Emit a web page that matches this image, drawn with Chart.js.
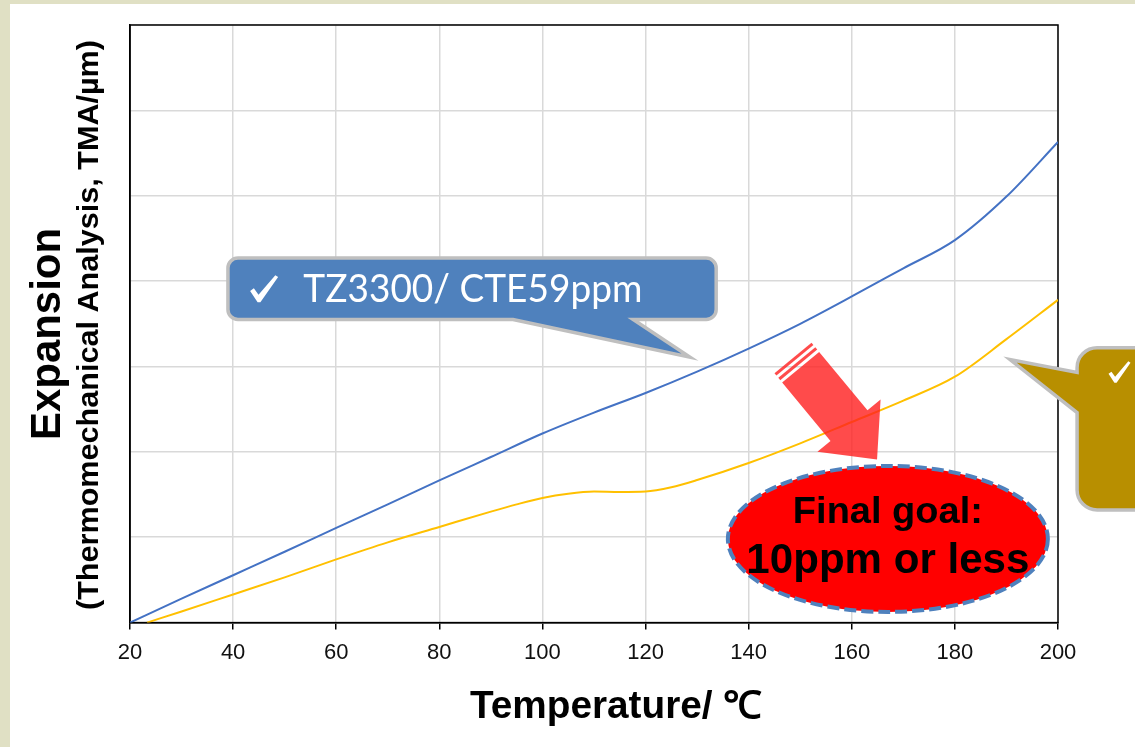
<!DOCTYPE html>
<html>
<head>
<meta charset="utf-8">
<script src="https://cdn.jsdelivr.net/npm/chart.js@4.4.1/dist/chart.umd.min.js"></script>
<style>
  html, body { margin: 0; padding: 0; background: #e0e0c4; }
  #wrap { width: 1135px; height: 747px; }
</style>
</head>
<body>
<div id="wrap"><canvas id="tmaChart" width="1135" height="747"></canvas></div>
<script>
// x axis ticks
const tempTicks = [20, 40, 60, 80, 100, 120, 140, 160, 180, 200];

// TZ3300 (blue), y in grid units
const blueTemps = [20, 30, 40, 50, 60, 70, 80, 90, 100, 110, 120, 130, 140, 150, 160, 170, 180, 190, 200];
const blueValues = [0, 0.28, 0.555, 0.83, 1.11, 1.385, 1.665, 1.94, 2.215, 2.46, 2.69, 2.94, 3.21, 3.50, 3.82, 4.15, 4.48, 4.99, 5.63];

// second material (yellow)
const yellowTemps = [23.3, 30, 40, 50, 60, 70, 80, 90, 95, 100, 105, 110, 115, 120, 125, 130, 140, 150, 160, 170, 180, 190, 200];
const yellowValues = [0, 0.13, 0.33, 0.53, 0.74, 0.94, 1.12, 1.30, 1.385, 1.46, 1.51, 1.535, 1.53, 1.535, 1.585, 1.67, 1.87, 2.10, 2.35, 2.60, 2.88, 3.32, 3.78];

const toPoints = (xs, ys) => xs.map((x, i) => ({ x: x, y: ys[i] }));

// draws text squeezed/stretched to a given width
function fitText(ctx, text, x, y, width, font) {
  ctx.font = font;
  const w = ctx.measureText(text).width;
  ctx.save();
  ctx.translate(x, y);
  ctx.scale(width / w, 1);
  ctx.textAlign = 'center';
  ctx.fillText(text, 0, 0);
  ctx.restore();
}

// wingdings-like tick mark, (x, y) = top left, s = size
function checkMark(ctx, x, y, s) {
  const k = s / 30;
  const pts = [[0, 17], [4, 14], [9, 21], [27, 0], [30, 2], [11, 29], [8, 29]];
  ctx.beginPath();
  pts.forEach((p, i) => {
    const px = x + p[0] * k, py = y + p[1] * k;
    if (i === 0) ctx.moveTo(px, py); else ctx.lineTo(px, py);
  });
  ctx.closePath();
  ctx.fill();
}

const backgroundPlugin = {
  id: 'background',
  beforeDraw(chart) {
    const ctx = chart.ctx;
    ctx.save();
    ctx.fillStyle = '#e0e0c4';
    ctx.fillRect(0, 0, chart.width, chart.height);
    ctx.fillStyle = '#ffffff';
    ctx.fillRect(10, 4, chart.width - 10, chart.height - 4);
    ctx.restore();
  },
  beforeDatasetsDraw(chart) {
    const { ctx, chartArea: a } = chart;
    ctx.save();
    ctx.strokeStyle = '#000';
    ctx.lineWidth = 1.5;
    ctx.strokeRect(a.left, a.top, a.right - a.left, a.bottom - a.top);
    ctx.restore();
  }
};

const annotationPlugin = {
  id: 'notes',
  afterDatasetsDraw(chart) {
    const ctx = chart.ctx;
    const X = v => chart.scales.x.getPixelForValue(v);
    const Y = v => chart.scales.y.getPixelForValue(v);

    // ---- blue callout
    ctx.save();
    let l = X(39.0), r = X(133.7), t = Y(4.27), b = Y(3.55), rad = 10;
    ctx.beginPath();
    ctx.moveTo(l + rad, t);
    ctx.arcTo(r, t, r, b, rad);
    ctx.arcTo(r, b, l, b, rad);
    ctx.lineTo(X(117.6), b);
    ctx.lineTo(X(128.6), Y(3.11));
    ctx.lineTo(X(94.3), b);
    ctx.arcTo(l, b, l, t, rad);
    ctx.arcTo(l, t, r, t, rad);
    ctx.closePath();
    ctx.fillStyle = '#4f81bd';
    ctx.fill();
    ctx.strokeStyle = '#bfbfbf';
    ctx.lineWidth = 3.5;
    ctx.stroke();
    ctx.fillStyle = '#ffffff';
    checkMark(ctx, X(43.3), Y(4.07), 28);
    fitText(ctx, 'TZ3300/ CTE59ppm', (X(53.6) + X(119.4)) / 2, Y(3.75), 339, '38px Lato');
    ctx.restore();

    // ---- gold callout (cut by the right edge)
    ctx.save();
    l = X(203.7); r = chart.width + 40; t = Y(3.22); b = Y(1.32); rad = 20;
    ctx.beginPath();
    ctx.moveTo(r, t);
    ctx.lineTo(l + rad, t);
    ctx.arcTo(l, t, l, b, rad);
    ctx.lineTo(l, Y(2.93));
    ctx.lineTo(X(190.7), Y(3.08));
    ctx.lineTo(l, Y(2.46));
    ctx.arcTo(l, b, r, b, rad);
    ctx.lineTo(r, b);
    ctx.closePath();
    ctx.fillStyle = '#b88f00';
    ctx.fill();
    ctx.strokeStyle = '#bfbfbf';
    ctx.lineWidth = 3.5;
    ctx.stroke();
    ctx.fillStyle = '#ffffff';
    checkMark(ctx, X(209.8), Y(3.06), 22);
    ctx.restore();

    // ---- red ellipse with dashed border
    ctx.save();
    const cx = X(167.0), cy = Y(0.98);
    ctx.beginPath();
    ctx.ellipse(cx, cy, 160, 73, 0, 0, Math.PI * 2);
    ctx.fillStyle = '#ff0000';
    ctx.fill();
    ctx.setLineDash([12, 5]);
    ctx.strokeStyle = '#4f81bd';
    ctx.lineWidth = 4;
    ctx.stroke();
    ctx.setLineDash([]);
    ctx.fillStyle = '#000000';
    fitText(ctx, 'Final goal:', cx, cy - 16, 190, 'bold 36px "Liberation Sans"');
    fitText(ctx, '10ppm or less', cx, cy + 34, 283, 'bold 42px "Liberation Sans"');
    ctx.restore();

    // ---- translucent red arrow
    ctx.save();
    const sx = X(148.6), sy = Y(3.10), ex = X(164.9), ey = Y(1.91);
    const len = Math.hypot(ex - sx, ey - sy);
    ctx.translate(sx, sy);
    ctx.rotate(Math.atan2(ey - sy, ex - sx));
    const hw = 24, headW = 41, headL = 44;
    ctx.beginPath();
    ctx.moveTo(12, -hw);
    ctx.lineTo(len - headL, -hw);
    ctx.lineTo(len - headL, -headW);
    ctx.lineTo(len, 0);
    ctx.lineTo(len - headL, headW);
    ctx.lineTo(len - headL, hw);
    ctx.lineTo(12, hw);
    ctx.closePath();
    ctx.fillStyle = 'rgba(255, 30, 30, 0.8)';
    ctx.fill();
    ctx.fillRect(0, -hw, 3, hw * 2);
    ctx.fillRect(6, -hw, 3, hw * 2);
    ctx.restore();

    // ---- axis titles
    ctx.save();
    ctx.fillStyle = '#000000';
    ctx.textBaseline = 'alphabetic';
    fitText(ctx, 'Temperature/ \u2103', 616, 718, 292, 'bold 38px "Liberation Sans"');
    ctx.translate(60, 334);
    ctx.rotate(-Math.PI / 2);
    fitText(ctx, 'Expansion', 0, 0, 212, 'bold 42px "Liberation Sans"');
    ctx.restore();
    ctx.save();
    ctx.fillStyle = '#000000';
    ctx.translate(98, 325);
    ctx.rotate(-Math.PI / 2);
    fitText(ctx, '(Thermomechanical Analysis, TMA/\u00b5m)', 0, 0, 570, 'bold 30px "Liberation Sans"');
    ctx.restore();
  }
};

new Chart(document.getElementById('tmaChart'), {
  type: 'line',
  data: {
    datasets: [
      {
        label: 'TZ3300',
        data: toPoints(blueTemps, blueValues),
        borderColor: '#4472c4',
        borderWidth: 2,
        pointRadius: 0,
        cubicInterpolationMode: 'monotone'
      },
      {
        label: 'other',
        data: toPoints(yellowTemps, yellowValues),
        borderColor: '#ffc000',
        borderWidth: 2,
        pointRadius: 0,
        cubicInterpolationMode: 'monotone'
      }
    ]
  },
  options: {
    responsive: false,
    animation: false,
    layout: { padding: { left: 130, top: 25, right: 77, bottom: 71 } },
    plugins: {
      legend: { display: false },
      tooltip: { enabled: false }
    },
    scales: {
      x: {
        type: 'linear',
        min: 20,
        max: 200,
        afterBuildTicks: axis => { axis.ticks = tempTicks.map(v => ({ value: v })); },
        grid: { color: '#d9d9d9', lineWidth: 1.5, tickColor: '#000', tickLength: 7 },
        border: { color: '#000', width: 1.5 },
        ticks: {
          color: '#111',
          padding: 10,
          maxRotation: 0,
          font: { family: '"Liberation Sans", Arial', size: 22 }
        }
      },
      y: {
        min: 0,
        max: 7,
        ticks: { display: false, stepSize: 1 },
        grid: { color: '#d9d9d9', lineWidth: 1.5, drawTicks: false },
        border: { color: '#000', width: 1.5 }
      }
    }
  },
  plugins: [backgroundPlugin, annotationPlugin]
});
</script>
</body>
</html>
